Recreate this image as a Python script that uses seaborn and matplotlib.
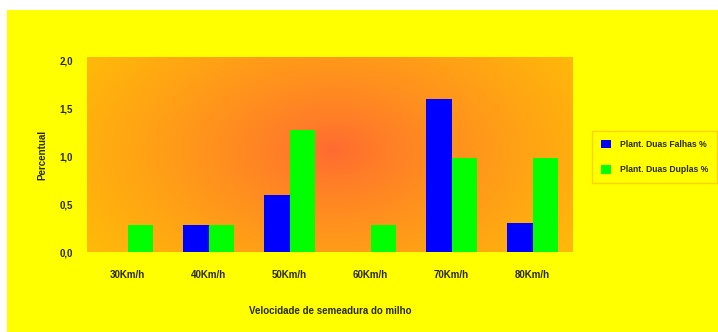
import numpy as np
import pandas as pd
import matplotlib
matplotlib.use("Agg")
import matplotlib.pyplot as plt
from matplotlib.patches import Rectangle
import seaborn as sns

# Data
categorias = ["30Km/h", "40Km/h", "50Km/h", "60Km/h", "70Km/h", "80Km/h"]
falhas = [0.0, 0.28, 0.6, 0.0, 1.6, 0.3]
duplas = [0.28, 0.28, 1.28, 0.28, 0.98, 0.98]
serie_falhas = "Plant. Duas Falhas %"
serie_duplas = "Plant. Duas Duplas %"
yticks = [0.0, 0.5, 1.0, 1.5, 2.0]
ytick_labels = ["0,0", "0,5", "1,0", "1,5", "2,0"]

df = pd.DataFrame({
    "cat": categorias * 2,
    "valor": falhas + duplas,
    "serie": [serie_falhas] * len(categorias) + [serie_duplas] * len(categorias),
})

sns.set_theme(style="white")
plt.rcParams["font.family"] = ["Liberation Sans Narrow", "Liberation Sans", "DejaVu Sans"]

W, H = 718, 332
TXT = "#2a2a00"
fig = plt.figure(figsize=(W / 100, H / 100), dpi=100, facecolor="white")
fig.patches.append(Rectangle((7 / W, 0), 1, 1 - 10 / H, transform=fig.transFigure,
                             facecolor="#FFFF00", edgecolor="none", zorder=-10))

ax = fig.add_axes([87 / W, 1 - 252 / H, (573 - 87) / W, (252 - 57) / H])
ax.set_facecolor("none")

# Radial orange gradient behind the bars
nx, ny = 400, 200
xs = np.linspace(0, 1, nx)
ys = np.linspace(0, 1, ny)
X, Y = np.meshgrid(xs, ys)
cx, cy = (333 - 87) / (573 - 87), 1 - (150 - 57) / (252 - 57)
d = np.sqrt(((X - cx) / 0.62) ** 2 + ((Y - cy) / 0.95) ** 2)
d = np.clip(d, 0, 1) ** 0.8
c0 = np.array([255, 105, 50]) / 255
c1 = np.array([255, 188, 8]) / 255
img = c0[None, None, :] * (1 - d[..., None]) + c1[None, None, :] * d[..., None]
ax.imshow(img, extent=[0, 1, 0, 1], transform=ax.transAxes, origin="lower",
          aspect="auto", zorder=0, interpolation="bilinear")

sns.barplot(data=df, x="cat", y="valor", hue="serie", order=categorias,
            palette=["#0000FF", "#00FF00"], width=0.62, saturation=1,
            edgecolor="none", linewidth=0, ax=ax, zorder=2)

ax.set_ylim(0, 2.04)
ax.set_xlim(-0.5, len(categorias) - 0.5)
ax.set_yticks(yticks)
ax.set_yticklabels(ytick_labels)
for s in ax.spines.values():
    s.set_visible(False)
ax.tick_params(axis="both", length=0, labelsize=7, colors=TXT)
ax.tick_params(axis="y", pad=10)
ax.tick_params(axis="x", pad=13)
for t in ax.get_xticklabels() + ax.get_yticklabels():
    t.set_fontweight("bold")

ax.set_xlabel("Velocidade de semeadura do milho", fontsize=7, fontweight="bold",
              color=TXT, labelpad=19)
ax.set_ylabel("Percentual", fontsize=7, fontweight="bold", color=TXT, labelpad=9)

leg = ax.legend(loc="center left", bbox_to_anchor=(592 / W, 1 - 157 / H),
                bbox_transform=fig.transFigure, frameon=True, fontsize=6.2,
                handlelength=1.2, handleheight=1.2, borderpad=1.0, labelspacing=1.9,
                handletextpad=1.0, borderaxespad=0, fancybox=False)
leg.get_frame().set_facecolor("#FFFF00")
leg.get_frame().set_edgecolor("#FFC800")
leg.get_frame().set_linewidth(1)
for t in leg.get_texts():
    t.set_fontweight("bold")
    t.set_color(TXT)

fig.savefig("out.png", dpi=100, facecolor=fig.get_facecolor())
